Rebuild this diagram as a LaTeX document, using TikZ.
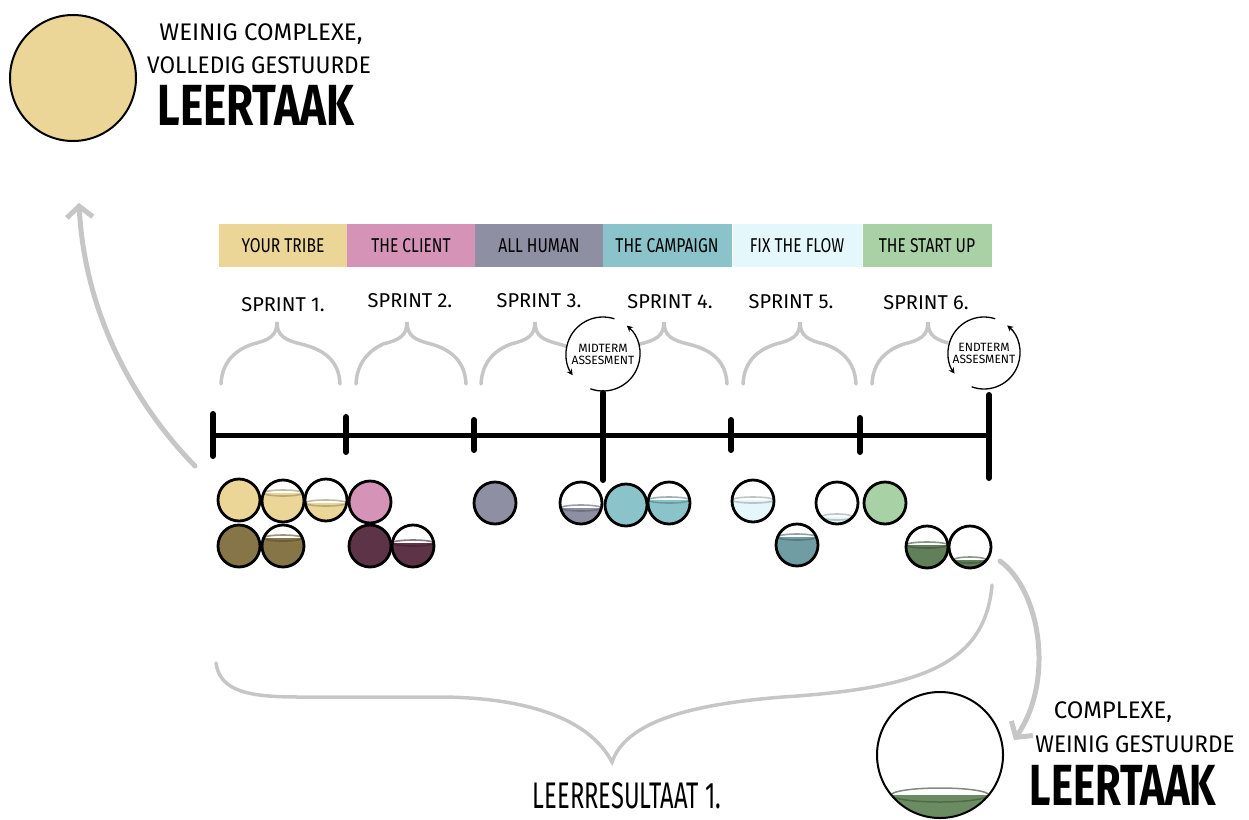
\documentclass[tikz,border=0pt]{standalone}
\usepackage{fontspec}
\setmainfont{Fira Sans}
\usepackage{graphicx}
\usetikzlibrary{arrows.meta}

\definecolor{tribe}{HTML}{EBD698}
\definecolor{tribedark}{HTML}{867546}
\definecolor{client}{HTML}{D593B7}
\definecolor{clientdark}{HTML}{5D3447}
\definecolor{human}{HTML}{8E8FA3}
\definecolor{campaign}{HTML}{8BC3CA}
\definecolor{flow}{HTML}{E4F8FC}
\definecolor{flowdark}{HTML}{6F9DA3}
\definecolor{startup}{HTML}{A9D1A6}
\definecolor{startupdark}{HTML}{617F58}
\definecolor{resultgreen}{HTML}{6B8C62}
\definecolor{pencil}{HTML}{C6C6C6}

\newcommand\squeeze[2][.78]{\scalebox{#1}[1]{#2}}

\begin{document}
\begin{tikzpicture}[x=1pt, y=-1pt,
	taskbox/.style={minimum width=129pt, minimum height=43pt, inner sep=0pt, font=\fontsize{20}{20}\selectfont},
	sprintlabel/.style={anchor=base, inner sep=0pt, font=\fontsize{20}{20}\selectfont},
	handtext/.style={anchor=base, inner sep=0pt, font=\fontsize{24}{24}\selectfont},
	bigtext/.style={anchor=base, inner sep=0pt, font=\bfseries\fontsize{58}{58}\selectfont},
	ball/.style={circle, draw=black, line width=2.8pt, minimum size=42pt, inner sep=0pt, fill=white},
	glass/.style 2 args={ball, path picture={
		\fill[#1] (path picture bounding box.south west) rectangle ([yshift=#2 pt]path picture bounding box.south east);
		\ifnum#2<42
			\pgfmathsetmacro\chord{sqrt(#2*(42-#2))}
			\draw[#1!65!black, opacity=.6, line width=1.6pt] ([yshift=#2 pt]path picture bounding box.south) ellipse [x radius=\chord pt, y radius=3pt];
		\fi}},
	curly/.style={draw=pencil, line width=3.5pt, line cap=round},
	bigarrow/.style={draw=pencil, line width=5pt, line cap=round, -{Straight Barb[length=11pt, width=26pt]}},
	cycle/.style={line width=1.3pt, -{Stealth[length=6pt, width=6pt]}},
	assess/.style={circle, fill=white, minimum size=74pt, inner sep=0pt, align=center, font=\fontsize{12}{12}\selectfont}]
	\useasboundingbox (0,0) rectangle (1249,819);

	% top left: the simple task
	\node[circle, draw=black, line width=2pt, fill=tribe, minimum size=126pt, inner sep=0pt] (simple) at (73,78) {};
	\node[handtext] (simple1) at (261,40) {WEINIG COMPLEXE,};
	\node[handtext] (simple2) at (259,73) {\squeeze[.94]{VOLLEDIG GESTUURDE}};
	\node[bigtext] (simple3) at (256,125) {\squeeze[.76]{LEERTAAK}};

	% the six assignments
	\node[taskbox, fill=tribe] (tribe) at (283,245.5) {\squeeze{YOUR TRIBE}};
	\node[taskbox, fill=client] (client) at (411,245.5) {\squeeze{THE CLIENT}};
	\node[taskbox, fill=human] (human) at (539,245.5) {\squeeze{ALL HUMAN}};
	\node[taskbox, fill=campaign] (campaign) at (667,245.5) {\squeeze{THE CAMPAIGN}};
	\node[taskbox, fill=flow] (flow) at (797,245.5) {\squeeze{FIX THE FLOW}};
	\node[taskbox, fill=startup] (startup) at (927,245.5) {\squeeze{THE START UP}};

	\foreach \x/\y [count=\i] in {283/311, 410/307, 539/307, 670/308, 791/308, 926/309}
		\node[sprintlabel] (sprint\i) at (\x,\y) {SPRINT \i.};

	% braces under the sprint labels
	\foreach \l/\p/\r in {221/277/340, 356/407/466, 481/535/595, 612/664/727, 743/800/856, 872/928/985}
		\draw[curly] (\l,384) .. controls ({\l+1},362) and ({\l+14},350) .. ({\p-24},344)
			.. controls ({\p-8},340) and (\p,336) .. (\p,322)
			.. controls (\p,336) and ({\p+8},340) .. ({\p+24},344)
			.. controls ({\r-14},350) and ({\r-1},362) .. (\r,384);

	% assessments
	\node[assess] (midterm) at (603,354) {MIDTERM\\ASSESMENT};
	\draw[cycle] ([shift={(-72:37)}]midterm.center) arc[start angle=-72, end angle=-215, radius=37];
	\draw[cycle] ([shift={(-250:37)}]midterm.center) arc[start angle=-250, end angle=-410, radius=37];
	\node[assess] (endterm) at (984,353) {ENDTERM\\ASSESMENT};
	\draw[cycle] ([shift={(-72:36)}]endterm.center) arc[start angle=-72, end angle=-215, radius=36];
	\draw[cycle] ([shift={(-250:36)}]endterm.center) arc[start angle=-250, end angle=-410, radius=36];

	% timeline
	\draw[line width=5pt] (213,435) -- (990,435);
	\foreach \x/\a/\b in {213/414/456, 346/417/452, 474/420/450, 603/393/480, 731/420/450, 860/418/452, 989/395/478}
		\draw[line width=6pt, line cap=round] (\x,\a) -- (\x,\b);

	% progress per sprint
	\foreach \x/\y/\c/\h [count=\i] in {239/500/tribe/42, 283/501/tribe/29, 326/500/tribe/18, 370/502/client/42,
			239/546/tribedark/42, 283/546/tribedark/29, 370/546/clientdark/42, 413/546/clientdark/24,
			495/503/human/42, 581/503/human/16, 626/505/campaign/42, 669/503/campaign/24,
			753/501/flow/22, 797/545/flowdark/29, 837/503/flow/7, 885/503/startup/42,
			927/547/startupdark/23, 970/547/startupdark/8}
		\node[glass={\c}{\h}] (b\i) at (\x,\y) {};

	% arrows out
	\coordinate (armstart) at (195,466);
	\coordinate (armend) at (79,203);
	\draw[bigarrow] (armstart) .. controls (140,410) and (85,320) .. (armend);
	\coordinate (tailstart) at (1000,561);
	\coordinate (tailend) at (1014,740);
	\draw[bigarrow] (tailstart) .. controls (1040,590) and (1055,680) .. (tailend);

	% learning outcome
	\draw[curly] (216,663) .. controls (220,692) and (250,697) .. (300,697) -- (443,697)
		.. controls (530,698) and (590,720) .. (612,762)
		.. controls (625,725) and (680,705) .. (783,697)
		.. controls (920,688) and (985,665) .. (992,585);
	\node[anchor=base, inner sep=0pt, font=\fontsize{37}{37}\selectfont] (outcome) at (627,808) {\squeeze[.64]{LEERRESULTAAT 1.}};

	% bottom right: the complex task
	\node[circle, draw=black, line width=2pt, fill=white, minimum size=126pt, inner sep=0pt, path picture={
		\fill[resultgreen] (path picture bounding box.south west) rectangle ([yshift=23pt]path picture bounding box.south east);
		\draw[resultgreen!65!black, opacity=.7, line width=1.5pt] ([yshift=23pt]path picture bounding box.south) ellipse [x radius=48.7pt, y radius=7pt];
	}] (complex) at (940,755) {};
	\node[handtext] (complex1) at (1113,718) {COMPLEXE,};
	\node[handtext] (complex2) at (1135,752) {\squeeze[.94]{WEINIG GESTUURDE}};
	\node[bigtext] (complex3) at (1123,805) {\squeeze[.72]{LEERTAAK}};
\end{tikzpicture}
\end{document}
